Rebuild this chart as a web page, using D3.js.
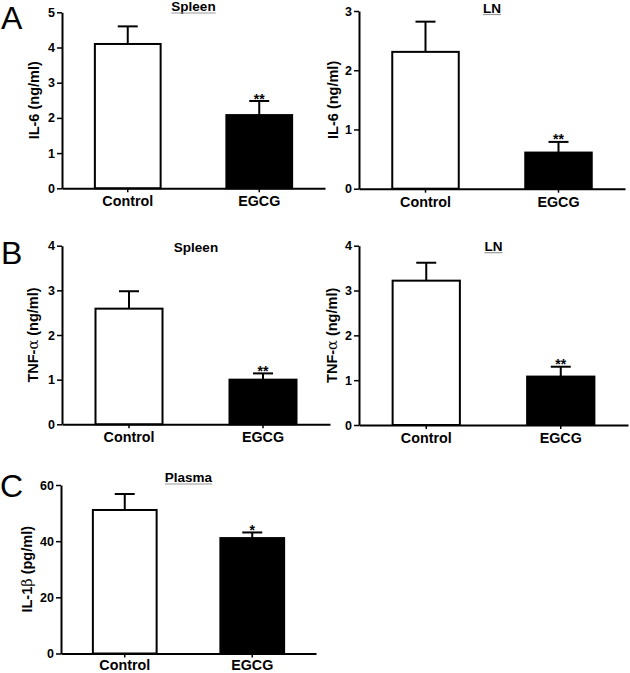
<!DOCTYPE html>
<html>
<head>
<meta charset="utf-8">
<script src="https://cdn.jsdelivr.net/npm/d3@7"></script>
<style>
  html, body { margin: 0; padding: 0; background: #fff; }
  svg { display: block; font-family: "Liberation Sans", Arial, sans-serif; }
</style>
</head>
<body>
<svg id="chart" width="630" height="673"></svg>
<script>
// ---- data ----
const categories = ["Control", "EGCG"];

const il6SpleenMean = [4.1, 2.08];
const il6SpleenSem  = [0.5, 0.4];
const il6SpleenSig  = ["", "**"];
const il6SpleenTicks = [0, 1, 2, 3, 4, 5];

const il6LnMean = [2.31, 0.61];
const il6LnSem  = [0.51, 0.18];
const il6LnSig  = ["", "**"];
const il6LnTicks = [0, 1, 2, 3];

const tnfSpleenMean = [2.59, 1.0];
const tnfSpleenSem  = [0.39, 0.14];
const tnfSpleenSig  = ["", "**"];
const tnfSpleenTicks = [0, 1, 2, 3, 4];

const tnfLnMean = [3.22, 1.08];
const tnfLnSem  = [0.40, 0.22];
const tnfLnSig  = ["", "**"];
const tnfLnTicks = [0, 1, 2, 3, 4];

const il1bPlasmaMean = [51.1, 41.1];
const il1bPlasmaSem  = [5.7, 2.0];
const il1bPlasmaSig  = ["", "*"];
const il1bPlasmaTicks = [0, 20, 40, 60];

const barFills = ["#ffffff", "#000000"];

// ---- layout ----
const svg = d3.select("#chart");

const panels = [
  { title: "Spleen", underline: true, yLabel: ["IL-6 (ng/ml)"], mean: il6SpleenMean, sem: il6SpleenSem, sig: il6SpleenSig, ticks: il6SpleenTicks,
    x0: 62, x1: 325, yBot: 188.3, yTop: 12.3, titleY: 11, labelX: 38.5, xPad: 4 },
  { title: "LN", underline: true, yLabel: ["IL-6 (ng/ml)"], mean: il6LnMean, sem: il6LnSem, sig: il6LnSig, ticks: il6LnTicks,
    x0: 359, x1: 625, yBot: 188.7, yTop: 11, titleY: 12.5, labelX: 337.5, xPad: 4 },
  { title: "Spleen", underline: false, yLabel: ["TNF-", "α", " (ng/ml)"], mean: tnfSpleenMean, sem: tnfSpleenSem, sig: tnfSpleenSig, ticks: tnfSpleenTicks,
    x0: 62, x1: 330, yBot: 424.3, yTop: 245.7, titleY: 252, labelX: 38, xPad: 4 },
  { title: "LN", underline: true, yLabel: ["TNF-", "α", " (ng/ml)"], mean: tnfLnMean, sem: tnfLnSem, sig: tnfLnSig, ticks: tnfLnTicks,
    x0: 359, x1: 628, yBot: 425, yTop: 245.7, titleY: 250.7, labelX: 337, xPad: 4 },
  { title: "Plasma", underline: true, yLabel: ["IL-1", "β", " (pg/ml)"], mean: il1bPlasmaMean, sem: il1bPlasmaSem, sig: il1bPlasmaSig, ticks: il1bPlasmaTicks,
    x0: 61, x1: 316, yBot: 653.5, yTop: 485, titleY: 482, labelX: 32, xPad: 2 }
];

const letters = [
  { t: "A", x: 1, y: 29 },
  { t: "B", x: 1, y: 264 },
  { t: "C", x: 0, y: 497 }
];

letters.forEach(l => {
  svg.append("text").attr("x", l.x).attr("y", l.y)
    .attr("font-size", 32).attr("fill", "#000").text(l.t);
});

panels.forEach(p => {
  const g = svg.append("g");
  const x = d3.scaleBand().domain(categories).range([p.x0, p.x1])
    .paddingInner(0.5).paddingOuter(0.25);
  const yMax = p.ticks[p.ticks.length - 1];
  const y = d3.scaleLinear().domain([0, yMax]).range([p.yBot, p.yTop]);

  // bars
  g.selectAll("rect.bar").data(categories).enter().append("rect")
    .attr("class", "bar")
    .attr("x", d => x(d))
    .attr("width", x.bandwidth())
    .attr("y", (d, i) => y(p.mean[i]))
    .attr("height", (d, i) => p.yBot - y(p.mean[i]))
    .attr("fill", (d, i) => barFills[i])
    .attr("stroke", "#000").attr("stroke-width", 2);

  // error bars (upper only)
  categories.forEach((c, i) => {
    const cx = x(c) + x.bandwidth() / 2;
    const yt = y(p.mean[i] + p.sem[i]);
    g.append("line").attr("x1", cx).attr("x2", cx)
      .attr("y1", y(p.mean[i])).attr("y2", yt)
      .attr("stroke", "#000").attr("stroke-width", 2);
    g.append("line").attr("x1", cx - 10).attr("x2", cx + 10)
      .attr("y1", yt).attr("y2", yt)
      .attr("stroke", "#000").attr("stroke-width", 2);
    if (p.sig[i]) {
      g.append("text").attr("x", cx).attr("y", yt + 2.5)
        .attr("text-anchor", "middle").attr("font-size", 14)
        .attr("font-weight", "bold").text(p.sig[i]);
    }
  });

  // y axis
  const yAxis = d3.axisLeft(y).tickValues(p.ticks).tickSize(5).tickSizeOuter(0).tickPadding(2)
    .tickFormat(d3.format("d"));
  const ya = g.append("g").attr("transform", `translate(${p.x0},0)`).call(yAxis);
  ya.select(".domain").attr("stroke-width", 2);
  ya.selectAll(".tick line").attr("stroke-width", 1.5);
  ya.selectAll(".tick text").attr("font-size", 12.5).attr("font-weight", "bold")
    .attr("font-family", "Liberation Sans, Arial, sans-serif").attr("fill", "#000");

  // x axis
  const xAxis = d3.axisBottom(x).tickSize(4).tickSizeOuter(0).tickPadding(p.xPad);
  const xa = g.append("g").attr("transform", `translate(0,${p.yBot})`).call(xAxis);
  xa.select(".domain").attr("stroke-width", 2);
  xa.selectAll(".tick line").attr("stroke-width", 1.5);
  xa.selectAll(".tick text").attr("font-size", 14.3).attr("font-weight", "bold")
    .attr("font-family", "Liberation Sans, Arial, sans-serif").attr("fill", "#000");

  // title
  const tcx = (p.x0 + p.x1) / 2;
  const tt = g.append("text").attr("x", tcx).attr("y", p.titleY)
    .attr("text-anchor", "middle").attr("font-size", 13.5).attr("font-weight", "bold")
    .text(p.title);
  if (p.underline) {
    const w = tt.node().getComputedTextLength();
    g.append("line").attr("x1", tcx - w / 2).attr("x2", tcx + w / 2)
      .attr("y1", p.titleY + 2).attr("y2", p.titleY + 2)
      .attr("stroke", "#999").attr("stroke-width", 1.2);
  }

  // y label
  const ly = (p.yBot + p.yTop) / 2;
  const lab = g.append("text")
    .attr("transform", `translate(${p.labelX},${ly}) rotate(-90)`)
    .attr("text-anchor", "middle").attr("font-size", 14.5).attr("font-weight", "bold");
  p.yLabel.forEach((s, k) => {
    const ts = lab.append("tspan").text(s);
    if (k === 1) ts.attr("font-family", "DejaVu Serif, serif").attr("font-weight", "normal");
  });
});
</script>
</body>
</html>
